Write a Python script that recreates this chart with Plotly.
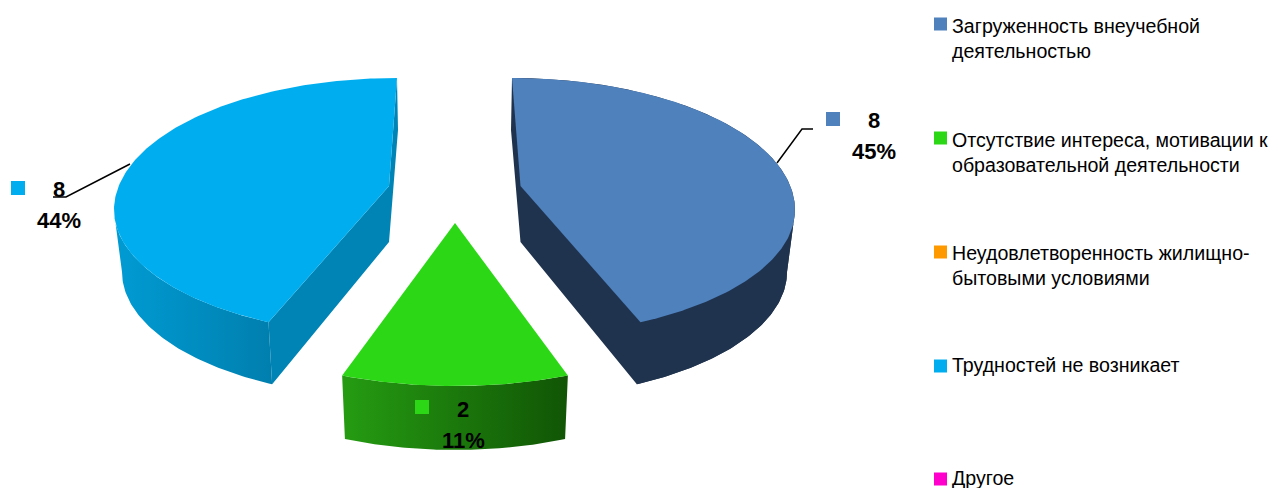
import numpy as np
import plotly.graph_objects as go

# --- data ---
categories = ["Загруженность внеучебной<br>деятельностью",
              "Отсутствие интереса, мотивации к<br>образовательной деятельности",
              "Неудовлетворенность жилищно-<br>бытовыми условиями",
              "Трудностей не возникает",
              "Другое"]
legend_colors = ["#4F81BD", "#2CD816", "#FF9900", "#00AEEF", "#FF00CC"]
slice_values = [8, 2, 0, 8]
slice_percent = ["45%", "11%", "", "44%"]

# --- drawing style ---
FONT = "Liberation Sans, Arial"
W, H = 1273, 488
RX, RY_BACK, RY_FRONT = 283, 132, 126
drawn = [
    dict(i=0, cx=512, cy=210, ax=520.5, ay=186, warp=1.40, ry2=126, rx2=275, depth=62,
         top="#4F81BD", inner="#1F334E", outer=("#1F334E", "#1F334E"), back_dx=-1,
         sq=(833, 119), lab=(874, 120), lead=[(777, 163), (802, 129), (813, 129)]),
    dict(i=1, cx=455, cy=260, ax=455, ay=223, warp=1.195, ry2=132, rx2=276, depth=58,
         top="#2CD816", inner=None, outer=("#259C12", "#115505"), back_dx=0,
         sq=(422, 407), lab=(463, 409), lead=None),
    dict(i=3, cx=397, cy=210, ax=389, ay=186, warp=1.40, ry2=126, rx2=275, depth=62,
         top="#00AEEF", inner="#0084B5", outer=("#009BD3", "#007FAE"), back_dx=1,
         sq=(18, 188), lab=(59, 189), lead=[(130, 164), (66, 197), (53, 197)]),
]

total = sum(slice_values)
edges = np.cumsum([0] + slice_values) / total * 2 * np.pi


def warp(t, a):
    """Foreshorten an angle the way the tilted pie does."""
    return np.arctan2(a * np.sin(t), np.cos(t)) % (2 * np.pi)


def top_arc(cx, cy, t0, t1, n=120):
    t = np.linspace(t0, t1, n)
    c = np.cos(t)
    return cx + RX * np.sin(t), cy - np.where(c > 0, RY_BACK, RY_FRONT) * c


def low_arc(cx, cy, rx, ry, t0, t1, n=80):
    t = np.linspace(t0, t1, n)
    return cx + rx * np.sin(t), cy - ry * np.cos(t)


fig = go.Figure()

for d in drawn:
    a0, a1 = edges[d["i"]], edges[d["i"] + 1]
    t0 = warp(a0, d["warp"])
    t1 = warp(a1, d["warp"])
    if t1 <= t0:
        t1 += 2 * np.pi
    cx, cy, ax, ay = d["cx"], d["cy"], d["ax"], d["ay"]
    bcy = cy + d["depth"]
    bay = ay + 56

    # inner (cut) faces
    if d["inner"]:
        if d["i"] == 0:
            bx, by = low_arc(cx, bcy, d["rx2"], d["ry2"], t1, np.pi / 2)
            tx, ty = top_arc(cx, cy, np.radians(96), t0)
            xs = [cx, cx + d["back_dx"], ax] + list(bx) + list(tx)
            ys = [cy - RY_BACK, cy - RY_BACK + 52, bay] + list(by) + list(ty)
        else:
            ex, ey = top_arc(cx, cy, t0, t0, 1)
            ebx, eby = low_arc(cx, bcy, d["rx2"], d["ry2"], t0, t0, 1)
            e1x, e1y = top_arc(cx, cy, t1, t1, 1)
            xs = [e1x[0], cx + d["back_dx"], ax, ebx[0], ex[0], ax]
            ys = [e1y[0], cy - RY_BACK + 52, bay, eby[0], ey[0], ay]
        fig.add_trace(go.Scatter(x=xs, y=ys, mode="lines", fill="toself", fillcolor=d["inner"],
                                 line=dict(width=0), hoverinfo="skip", showlegend=False))

    # outer rim: top edge stops just short of the silhouette tangent on the lower ellipse
    if d["i"] == 0:
        b0, b1 = np.pi / 2, t1
        u0, u1 = np.radians(96), t1
    elif d["i"] == 3:
        b0, b1 = t0, 3 * np.pi / 2
        u0, u1 = t0, np.radians(264)
    else:
        b0, b1 = t0, t1
        u0, u1 = t0, t1
    tx, ty = top_arc(cx, cy, u0, u1)
    bx, by = low_arc(cx, bcy, d["rx2"], d["ry2"], b1, b0)
    fig.add_trace(go.Scatter(
        x=list(tx) + list(bx), y=list(ty) + list(by), mode="lines", fill="toself",
        fillcolor=d["outer"][0], line=dict(width=0), hoverinfo="skip", showlegend=False,
        fillgradient=dict(type="horizontal", colorscale=[[0, d["outer"][0]], [1, d["outer"][1]]])))

    # top face
    tx, ty = top_arc(cx, cy, t0, t1, 200)
    fig.add_trace(go.Scatter(
        x=[ax] + list(tx) + [ax], y=[ay] + list(ty) + [ay], mode="lines", fill="toself",
        fillcolor=d["top"], line=dict(width=0), name=categories[d["i"]].replace("<br>", " "),
        showlegend=False, hoverinfo="name"))

    # data label
    lx, ly = d["lab"]
    fig.add_trace(go.Scatter(x=[d["sq"][0]], y=[d["sq"][1]], mode="markers",
                             marker=dict(symbol="square", size=14, color=d["top"]),
                             hoverinfo="skip", showlegend=False))
    fig.add_annotation(x=lx, y=ly, text=f"<b>{slice_values[d['i']]}</b>", showarrow=False,
                       font=dict(family=FONT, size=22, color="black"), xanchor="center", yanchor="middle")
    fig.add_annotation(x=lx, y=ly + 31, text=f"<b>{slice_percent[d['i']]}</b>", showarrow=False,
                       font=dict(family=FONT, size=22, color="black"), xanchor="center", yanchor="middle")
    if d["lead"]:
        fig.add_trace(go.Scatter(x=[p[0] for p in d["lead"]], y=[p[1] for p in d["lead"]], mode="lines",
                                 line=dict(color="black", width=1.5), hoverinfo="skip", showlegend=False))

# legend, laid out by hand
legend_y = [24, 138, 252, 366, 479]
text_y = [38.5, 152, 265.5, 365, 478]
for name, col, ym, yt in zip(categories, legend_colors, legend_y, text_y):
    fig.add_trace(go.Scatter(x=[940.5], y=[ym], mode="markers",
                             marker=dict(symbol="square", size=13, color=col),
                             hoverinfo="skip", showlegend=False))
    fig.add_annotation(x=950, y=yt, text=name, showarrow=False, align="left",
                       font=dict(family=FONT, size=19.6, color="black"), xanchor="left", yanchor="middle")

fig.update_layout(
    width=W, height=H, margin=dict(l=0, r=0, t=0, b=0),
    paper_bgcolor="white", plot_bgcolor="white", showlegend=False,
    xaxis=dict(range=[0, W], visible=False, fixedrange=True),
    yaxis=dict(range=[H, 0], visible=False, fixedrange=True),
)
fig.write_html("out.html", config=dict(displayModeBar=False),
               post_script="document.body.style.margin='0';document.body.style.overflow='hidden';")
